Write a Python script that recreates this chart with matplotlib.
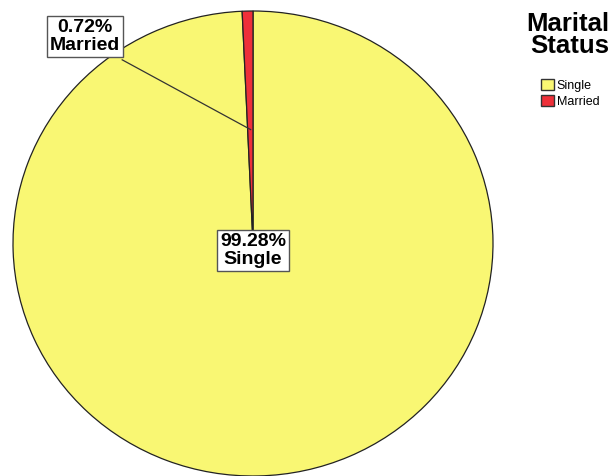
import matplotlib
matplotlib.use('Agg')
import matplotlib.pyplot as plt
from matplotlib.patches import Patch

plt.rcParams['font.family'] = ['Liberation Sans', 'DejaVu Sans']

categories = ['Single', 'Married']
percent = [99.28, 0.72]
colors = ['#F9F773', '#EE3039']

W, H = 613, 476
fig = plt.figure(figsize=(W / 100, H / 100), dpi=100)

# pie spans a slightly squashed ellipse, bottom edge clipped by the canvas
ax = fig.add_axes([13 / W, 0 / H, 480 / W, 465 / H])
ax.pie(percent, colors=colors, startangle=90, counterclock=False, radius=1,
       wedgeprops=dict(edgecolor='#222222', linewidth=0.9))
ax.set_xlim(-1, 1)
ax.set_ylim(-1, 1)
ax.set_aspect('auto')
ax.axis('off')

box = dict(boxstyle='square,pad=0.15', facecolor='white', edgecolor='#555555', lw=1)

ax.text(0, -0.03, f'{percent[0]:.2f}%\n{categories[0]}', ha='center', va='center',
        fontsize=14, fontweight='bold', bbox=box, linespacing=1.05)

# leader line for the small slice
ax.plot([-0.545, -0.01], [0.79, 0.49], color='#333333', lw=0.9)
ax.text(-0.70, 0.89, f'{percent[1]:.2f}%\n{categories[1]}', ha='center', va='center',
        fontsize=14, fontweight='bold', bbox=box, linespacing=1.05)

fig.text(609 / W, 1 - 12 / H, 'Marital\nStatus', ha='right', va='top',
         fontsize=18.5, fontweight='bold', multialignment='right', linespacing=0.92)

handles = [Patch(facecolor=c, edgecolor='#333333', label=l) for c, l in zip(colors, categories)]
fig.legend(handles=handles, loc='upper left', bbox_to_anchor=(535 / W, 1 - 73 / H),
           frameon=False, fontsize=9, handlelength=1.0, handleheight=1.0,
           handletextpad=0.25, labelspacing=0.25, borderpad=0)

fig.savefig('out.png', dpi=100)
